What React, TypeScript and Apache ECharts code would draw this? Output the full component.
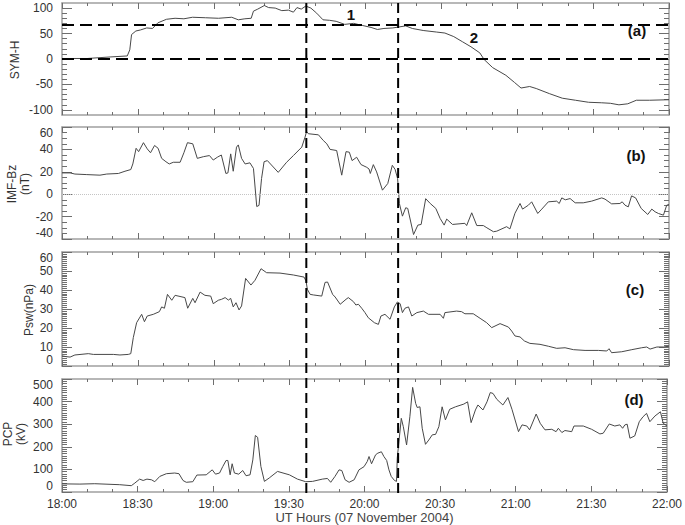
import React, { useEffect, useRef } from "react";
import * as echarts from "echarts";

// time in minutes after 18:00 UT, 07 Nov 2004
const symT = [0, 10, 19, 25.8, 26.8, 27.5, 29.2, 31, 33.5, 35.8, 37.9, 41.3, 44.7, 48.2, 51.6, 56.8, 61.9, 67.1, 69.7, 72.3, 74.8, 75.7, 77.4, 80, 81.7, 84.3, 86.9, 89.5, 91.5, 92.9, 94.6, 96.4, 98.4, 100.7, 103.2, 105.8, 108.4, 111.8, 115.3, 118.7, 122.2, 124.7, 127.3, 130.8, 133.3, 135.9, 138.5, 142.8, 148, 151.4, 154.9, 158.3, 161.7, 165.2, 166.9, 170.3, 175.5, 178.9, 181.5, 184.9, 187.5, 192.7, 197.8, 203, 208.2, 213.4, 216.8, 220.2, 223.7, 227.1, 232.3, 240];
const symV = [1, 1, 4, 6, 18, 48, 55, 57, 61, 60, 71, 78, 80, 79, 82, 81, 80, 82, 77, 79, 80, 94, 98, 105, 101, 100, 95, 96, 92, 101, 98, 104, 100, 90, 77, 76, 74, 68, 70, 66, 62, 58, 60, 61, 63, 65, 60, 56, 53, 51, 44, 34, 24, 12, -1, -17, -32, -46, -57, -54, -58, -68, -77, -81, -85, -86, -87, -90, -88, -81, -81, -80];

const bzT = [0, 3.2, 5.1, 9.8, 15, 17.7, 22.3, 24.9, 27.2, 28, 29.3, 30.3, 32.2, 33.7, 35, 36.6, 38, 39.4, 41.1, 42.4, 44, 46.7, 48.2, 49.6, 51.7, 53.5, 55.9, 58.3, 59.8, 61.4, 63, 64.8, 65.6, 66.7, 67.7, 69, 69.7, 71, 72.4, 74.3, 75.7, 77, 77.9, 78.9, 79.9, 81.2, 85.5, 88.8, 91.5, 94.8, 96.1, 96.7, 97.4, 101.4, 103.3, 104.7, 106, 108.6, 110.6, 112.3, 113.6, 114.7, 116.5, 118.2, 120.5, 121.4, 121.9, 123.1, 124.4, 126.7, 128.8, 130.6, 131.7, 132.7, 133, 133.4, 134.6, 135.9, 136.7, 139, 140.7, 142, 143.8, 145.6, 147.8, 149.5, 151.1, 152.1, 154.4, 159.3, 160, 162, 164, 166.6, 168, 170.6, 171.9, 175.8, 177.1, 179.1, 181.1, 182.1, 184.4, 185.7, 188.1, 189.7, 192.3, 195.6, 196.6, 197.6, 199, 200.9, 202.9, 206.1, 209.4, 213.4, 214.7, 217.3, 220.6, 221.5, 222.6, 223.9, 225.2, 226.8, 229, 231.6, 233.2, 234.5, 235.8, 237.8, 239.1, 240];
const bzV = [19, 19, 18, 17.5, 17, 18, 18.5, 20.5, 22, 27, 41, 38, 46, 40.5, 37, 43.5, 41, 32, 29, 27, 28.5, 28.5, 37, 46, 45, 32, 33.5, 34.5, 30.5, 33, 35, 18.5, 19, 36, 20.5, 42, 44, 32, 27, 28, 23, -11, -10, 14, 29, 30, 19.5, 28.5, 34.5, 42, 51, 56, 54, 53, 48, 45, 40, 39, 17, 38, 37.5, 30, 33, 26.5, 24, 22.5, 18.5, 26.4, 19.9, 3.6, 9.5, 25.8, 22.2, 13.9, 5, -8.3, -19.6, -12.1, -12.7, -36, -27.6, -27, -4, -8.3, -12.7, -21.6, -27.6, -22.2, -27, -26, -28, -16.6, -28, -28, -30, -33.5, -33, -29, -31, -17, -8.3, -13.3, -9.8, -6.8, -17.2, -13.3, -6.8, -6.2, -8.3, -3.3, -5, -3.9, -7.7, -7.7, -6.2, -3.3, -4.4, -8.6, -8.3, -6.8, -9.8, -11.3, -1.5, -3.3, -12.7, -18.1, -13.3, -15.7, -17.2, -18.7, -9.8, -9.2];

const pswT = [0, 1.8, 3.2, 5.1, 10.4, 12.4, 20.3, 22.9, 26.2, 27.2, 28.2, 29.5, 31.5, 32.6, 33.7, 36.1, 38.5, 39.4, 40.5, 41.7, 43.4, 44.7, 48.6, 49.7, 51.7, 52.6, 54.6, 56.5, 58.8, 59.8, 61.8, 63.1, 64.5, 65.8, 66.7, 67.7, 68.8, 70, 71, 72.6, 74.7, 76.3, 78.7, 80.9, 86.2, 91.5, 95.7, 96.5, 97, 98.1, 99.4, 102.7, 104, 105, 107, 108, 110, 112.3, 113.2, 115.2, 116.2, 117.2, 118.5, 119.8, 121.1, 123.5, 125.1, 126.1, 127.7, 129.7, 131.4, 132.6, 133.7, 134.6, 135.6, 137, 138.3, 140.3, 142.9, 144.9, 149.5, 150.8, 151.4, 156, 158, 159.3, 162.6, 165.3, 167.9, 169.9, 173.2, 176.5, 177.8, 179.1, 181.1, 182.8, 185, 189, 192.3, 195.6, 198.9, 202.2, 206.8, 212.1, 215.4, 216.3, 217.3, 221.3, 225.3, 229.2, 231.2, 232.5, 235.2, 237.8, 240];
const pswV = [5.3, 4.9, 4.7, 5.8, 6.5, 6.1, 6.1, 5.8, 6.1, 6.5, 15, 22.8, 27.2, 23.3, 26.3, 27.2, 28.6, 31.1, 30.4, 37.7, 34.6, 37.2, 36, 30.4, 35.6, 33.3, 38.9, 37.2, 36.8, 32.8, 34.6, 35.1, 36, 34.7, 35.6, 31.1, 33.3, 29.5, 31.6, 46.1, 42.6, 45.1, 51.2, 49.1, 48.9, 47.9, 46.8, 44.7, 40.4, 37.7, 37.4, 36.8, 44, 44.2, 37.7, 36.3, 32.5, 35.1, 36, 33.9, 32.1, 32.5, 30.4, 28.1, 25.4, 22.8, 21.9, 26.3, 27.2, 24.6, 31.1, 33.7, 32.8, 28.1, 30.4, 31.1, 26.3, 28.1, 28.9, 27.2, 27.2, 25.1, 28.1, 28.9, 28.6, 27.5, 27.5, 25.1, 22.8, 20.2, 22.3, 20.5, 18.4, 15.8, 15.3, 13.2, 11.9, 11.4, 10.4, 9.3, 9.6, 8.6, 8.2, 8.2, 7.9, 9.1, 7, 7.5, 8.6, 9.6, 10, 8.9, 10, 10, 10.4];

const pcpT = [0, 7.1, 13, 22.9, 27.5, 28.9, 30.8, 32.2, 33.7, 35.5, 36.8, 38.8, 41.4, 44.7, 46.4, 48, 49.3, 51.9, 53.5, 57.2, 59.6, 60.9, 62.5, 63.8, 65.1, 65.8, 66.7, 67.5, 68.4, 70.1, 71.7, 73, 74.6, 75.7, 76.7, 77.6, 78.9, 80.3, 82.2, 85.5, 90.2, 93.4, 96.7, 99.4, 103.3, 105.3, 106.6, 108.3, 109.9, 111, 112.3, 113.9, 115.9, 117.8, 119.8, 121.1, 121.8, 122.8, 124.4, 125.3, 126.7, 127.7, 128.8, 129.7, 130.6, 131.9, 132.7, 133, 133.8, 134.6, 135.4, 136.7, 138, 139.1, 140.3, 140.9, 142, 142.9, 144.2, 145.5, 146.9, 148.2, 149.5, 150.8, 152.1, 153.8, 156.1, 159.4, 160.9, 162.3, 164, 165, 167, 168.6, 169.9, 171, 172.5, 174.9, 176.9, 178.5, 181.1, 182.5, 184.4, 185.5, 188.1, 189.7, 191.6, 194.3, 196, 196.9, 198.3, 199.5, 202.2, 203.1, 206.8, 210.1, 213.4, 214.7, 217.1, 219.3, 221.3, 222.4, 223.3, 224.2, 225.3, 227.2, 229, 230.5, 231.9, 233.2, 235.2, 237.4, 238.5, 240];
const pcpV = [36, 35, 36.7, 32.3, 28, 39.6, 57, 51, 57, 54, 45.5, 69, 81, 84, 81, 51, 43, 45.5, 75, 76, 98, 79, 84, 113, 139.5, 139.5, 76, 125, 84, 79, 95, 72, 76, 142, 250, 242, 113, 47, 62, 91, 76, 57, 45.5, 47, 57, 60, 43, 69, 98, 95, 54, 43, 54, 98, 112, 135, 157, 125, 164.5, 172, 178, 157, 139.5, 98, 69, 51, 47, 150, 238, 326, 289, 208, 333, 463, 392, 374, 377, 282, 211, 230, 253, 255, 289, 377, 319, 366, 377, 389, 399, 307, 363, 385, 363, 399, 440, 436, 410, 385, 418, 366, 267, 297, 292, 275, 345, 304, 275, 277.5, 267, 282, 263, 272, 267, 292, 292, 277.5, 257, 260, 301, 292, 297, 282, 297, 300, 238, 248, 311, 333, 348, 311, 336, 355, 304, 292];

const xTickLabels = ["18:00", "18:30", "19:00", "19:30", "20:00", "20:30", "21:00", "21:30", "22:00"];
const symMajorTicks = [-100, -50, 0, 50, 100];
const symMinorTicks = [-100, -90, -80, -70, -60, -50, -40, -30, -20, -10, 0, 10, 20, 30, 40, 50, 60, 70, 80, 90, 100];
const symRefLevels = [0, 68];
const eventTimes = [96.6, 132.9];
const panelLabels = ["(a)", "(b)", "(c)", "(d)"];
const eventLabels = ["1", "2"];

const FONT = "'Liberation Sans', Arial, sans-serif";
const BOX = "#a0a0a0";
const TICK = "#6e6e6e";
const LINE = "#484848";

const grids = [
  { left: 62, width: 607, top: 3, height: 112 },
  { left: 62, width: 607, top: 127, height: 112 },
  { left: 62, width: 607, top: 252, height: 114 },
  { left: 62, width: 607, top: 379, height: 114 },
];

export default function App() {
  const ref = useRef<HTMLDivElement>(null);
  useEffect(() => {
    if (!ref.current) return;
    const chart = echarts.init(ref.current, undefined, { renderer: "svg" });

    const xAxes: any[] = [];
    grids.forEach((_, i) => {
      ["bottom", "top"].forEach((pos) => {
        const isLabel = i === 3 && pos === "bottom";
        xAxes.push({
          type: "value",
          gridIndex: i,
          position: pos,
          min: 0,
          max: 240,
          interval: 30,
          axisLine: { show: true, onZero: false, lineStyle: { color: BOX, width: 1.5 } },
          axisTick: { show: true, inside: true, length: 6, lineStyle: { color: TICK, width: 1 } },
          minorTick: { show: true, splitNumber: 3, length: 3, lineStyle: { color: TICK, width: 1 } },
          splitLine: { show: false },
          axisLabel: {
            show: isLabel,
            fontSize: 12,
            color: "#333",
            fontFamily: FONT,
            margin: 6,
            formatter: (v: number) => xTickLabels[Math.round(v / 30)],
          },
          name: isLabel ? "UT Hours (07 November 2004)" : "",
          nameLocation: "middle",
          nameGap: 19,
          nameTextStyle: { fontSize: 13, color: "#444", fontFamily: FONT },
        });
      });
    });

    const yBase = (gi: number, pos: string) => ({
      type: "value",
      gridIndex: gi,
      position: pos,
      axisLine: { show: true, onZero: false, lineStyle: { color: BOX, width: 1.5 } },
      splitLine: { show: false },
    });
    const lab = (show: boolean, clampEnds: boolean) => ({
      show,
      fontSize: 12,
      color: "#333",
      fontFamily: FONT,
      margin: 9,
      ...(clampEnds ? { verticalAlignMinLabel: "bottom", verticalAlignMaxLabel: "top" } : {}),
    });

    const yAxes: any[] = [];
    // panel a: 0 left major, 1 left minor, 2 right major, 3 right minor
    ["left", "right"].forEach((pos) => {
      yAxes.push({
        ...yBase(0, pos),
        min: -110,
        max: 110,
        axisTick: { show: true, inside: true, length: 10, customValues: symMajorTicks, lineStyle: { color: TICK, width: 1 } },
        axisLabel: { ...lab(pos === "left", false), customValues: symMajorTicks },
      });
      yAxes.push({
        ...yBase(0, pos),
        min: -110,
        max: 110,
        axisLine: { show: false, onZero: false },
        axisTick: { show: true, inside: true, length: 5, customValues: symMinorTicks, lineStyle: { color: TICK, width: 1 } },
        axisLabel: { show: false },
      });
    });
    const simplePanel = (gi: number, min: number, max: number, interval: number, split: number) => {
      ["left", "right"].forEach((pos) => {
        yAxes.push({
          ...yBase(gi, pos),
          min,
          max,
          interval,
          axisTick: { show: true, inside: true, length: 10, lineStyle: { color: TICK, width: 1 } },
          minorTick: { show: true, splitNumber: split, length: 5, lineStyle: { color: TICK, width: 1 } },
          axisLabel: lab(pos === "left", true),
        });
      });
    };
    simplePanel(1, -40, 60, 20, 4); // 4,5
    simplePanel(2, 0, 60, 10, 10); // 6,7
    simplePanel(3, 0, 500, 100, 10); // 8,9

    const mk = (t: number[], v: number[]) => t.map((x, i) => [x, v[i]]);
    const lineSeries = (xi: number, yi: number, data: any[], extra: any = {}) => ({
      type: "line",
      xAxisIndex: xi,
      yAxisIndex: yi,
      data,
      showSymbol: false,
      symbol: "none",
      lineStyle: { color: LINE, width: 1 },
      silent: true,
      ...extra,
    });

    const series = [
      lineSeries(0, 0, mk(symT, symV), {
        markLine: {
          silent: true,
          symbol: ["none", "none"],
          label: { show: false },
          lineStyle: { color: "#000", type: [12, 6], width: 2 },
          data: symRefLevels.map((y) => ({ yAxis: y })),
        },
      }),
      lineSeries(2, 4, mk(bzT, bzV), {
        markLine: {
          silent: true,
          symbol: ["none", "none"],
          label: { show: false },
          lineStyle: { color: "#c4c4c4", type: "dotted", width: 1 },
          data: [{ yAxis: 0 }],
        },
      }),
      lineSeries(4, 6, mk(pswT, pswV)),
      lineSeries(6, 8, mk(pcpT, pcpV)),
    ];

    chart.setOption({
      animation: false,
      textStyle: { fontFamily: FONT },
      grid: grids.map((g) => ({ ...g, containLabel: false })),
      xAxis: xAxes,
      yAxis: yAxes,
      series,
    });

    const top = grids[0].top;
    const bottom = grids[3].top + grids[3].height;
    const vlines = eventTimes.map((t) => {
      const x = chart.convertToPixel({ xAxisIndex: 0 }, t) as number;
      return {
        type: "line",
        silent: true,
        shape: { x1: x, y1: top, x2: x, y2: bottom },
        style: { stroke: "#000", lineWidth: 2, lineDash: [10, 5] },
        z: 100,
      };
    });

    const boldText = (text: string, x: number, y: number, size = 15) => ({
      type: "text",
      silent: true,
      x,
      y,
      style: {
        text,
        fill: "#111",
        font: `bold ${size}px ${FONT}`,
        align: "center",
        verticalAlign: "middle",
      },
      z: 101,
    });
    const nameText = (text: string, x: number, y: number) => ({
      type: "text",
      silent: true,
      x,
      y,
      rotation: Math.PI / 2,
      style: {
        text,
        fill: "#333",
        font: `12px ${FONT}`,
        align: "center",
        verticalAlign: "middle",
        lineHeight: 13,
      },
    });

    chart.setOption({
      graphic: [
        ...vlines,
        boldText(panelLabels[0], 637, 30),
        boldText(panelLabels[1], 636, 155),
        boldText(panelLabels[2], 635, 289),
        boldText(panelLabels[3], 634, 399),
        boldText(eventLabels[0], 351, 14),
        boldText(eventLabels[1], 474, 37),
        nameText("SYM-H", 15, 60),
        nameText("IMF-Bz\n(nT)", 18, 184),
        nameText("Psw(nPa)", 29, 310),
        nameText("PCP\n(kV)", 14, 434),
      ],
    });

    return () => chart.dispose();
  }, []);
  return <div ref={ref} style={{ position: "absolute", left: 0, top: 0, width: 685, height: 525 }} />;
}
